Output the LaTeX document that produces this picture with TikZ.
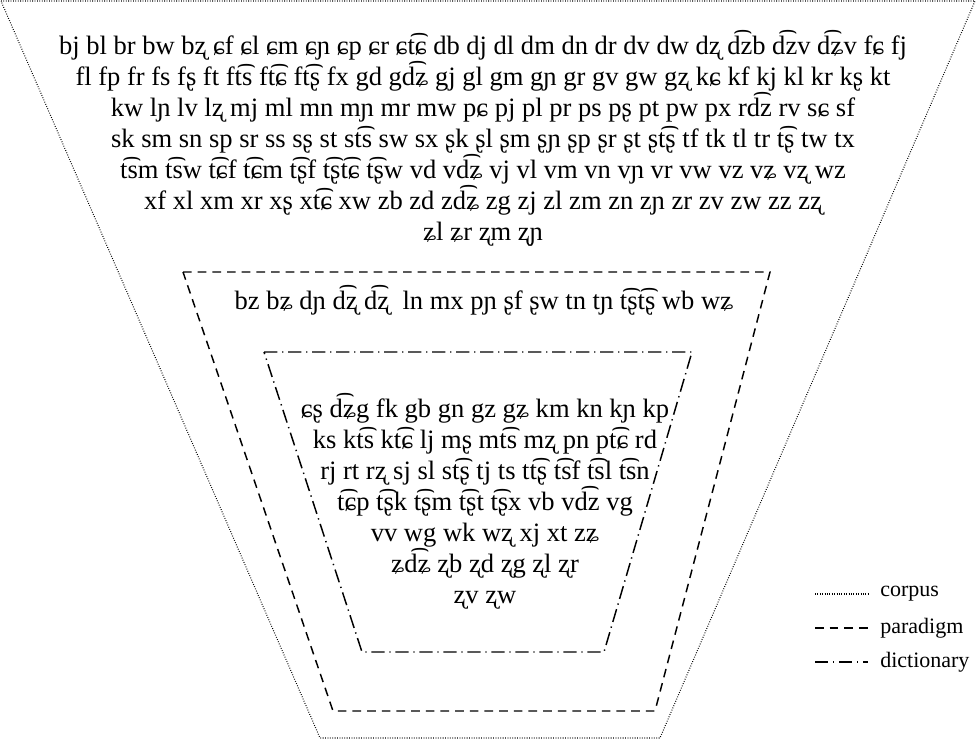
\documentclass[tikz,border=0pt]{standalone}
\usepackage{fontspec}
\setmainfont{Liberation Serif}
\begin{document}
\begin{tikzpicture}[x=0.75pt,y=-0.75pt,
  txt/.style={align=center,inner sep=0pt,font=\fontsize{19.9pt}{23.25pt}\selectfont},
  corpusline/.style={line width=0.8pt,dash pattern=on 0.6pt off 1.2pt},
  paraline/.style={line width=1.1pt,dash pattern=on 6.5pt off 4.5pt},
  dictline/.style={line width=1.1pt,dash pattern=on 10pt off 3.5pt on 1pt off 3.5pt},
  legtext/.style={anchor=west,inner sep=0pt,font=\fontsize{16.5pt}{20pt}\selectfont}]
\useasboundingbox (0,0) rectangle (976,741);
% corpus
\draw[corpusline] (1,1) -- (975,1) -- (660,738) -- (320,738) -- cycle;
% paradigm
\draw[paraline] (183,272) -- (770,272) -- (655,711) -- (333,711) -- cycle;
% dictionary
\draw[dictline] (264,352) -- (692,352) -- (604,652) -- (362,652) -- cycle;
\node[txt] (corpus) at (483,138) {bj bl br bw bʐ ɕf ɕl ɕm ɕɲ ɕp ɕr ɕt͡ɕ db dj dl dm dn dr dv dw dʐ d͡zb d͡zv d͡ʑv fɕ fj\\
fl fp fr fs fʂ ft ft͡s ft͡ɕ ft͡ʂ fx gd gd͡ʑ gj gl gm gɲ gr gv gw gʐ kɕ kf kj kl kr kʂ kt\\
kw lɲ lv lʐ mj ml mn mɲ mr mw pɕ pj pl pr ps pʂ pt pw px rd͡z rv sɕ sf\\
sk sm sn sp sr ss sʂ st st͡s sw sx ʂk ʂl ʂm ʂɲ ʂp ʂr ʂt ʂt͡ʂ tf tk tl tr t͡ʂ tw tx\\
t͡sm t͡sw t͡ɕf t͡ɕm t͡ʂf t͡ʂt͡ɕ t͡ʂw vd vd͡ʑ vj vl vm vn vɲ vr vw vz vʑ vʐ wz\\
xf xl xm xr xʂ xt͡ɕ xw zb zd zd͡ʑ zg zj zl zm zn zɲ zr zv zw zz zʐ\\
ʑl ʑr ʐm ʐɲ};
\node[txt] (paradigm) at (484,300) {bz bʑ dɲ d͡ʐ d͡ʐ\ \ ln mx pɲ ʂf ʂw tn tɲ t͡ʂt͡ʂ wb wʑ};
\node[txt] (dictionary) at (485,501) {ɕʂ d͡ʑg fk gb gn gz gʑ km kn kɲ kp\\
ks kt͡s kt͡ɕ lj mʂ mt͡s mʐ pn pt͡ɕ rd\\
rj rt rʐ sj sl st͡ʂ tj ts tt͡ʂ t͡sf t͡sl t͡sn\\
t͡ɕp t͡ʂk t͡ʂm t͡ʂt t͡ʂx vb vd͡z vg\\
vv wg wk wʐ xj xt zʑ\\
ʑd͡ʑ ʐb ʐd ʐg ʐl ʐr\\
ʐv ʐw};
% legend
\coordinate (c1) at (815,594); \coordinate (c2) at (868,594);
\coordinate (p1) at (815,628); \coordinate (p2) at (868,628);
\coordinate (d1) at (815,662); \coordinate (d2) at (868,662);
\draw[corpusline] (c1) -- (c2);
\draw[paraline] (p1) -- (p2);
\draw[dictline] (d1) -- (d2);
\node[legtext] (lc) at (880,594) {corpus};
\node[legtext] (lp) at (880,628) {paradigm};
\node[legtext] (ld) at (880,662) {dictionary};
\end{tikzpicture}
\end{document}
